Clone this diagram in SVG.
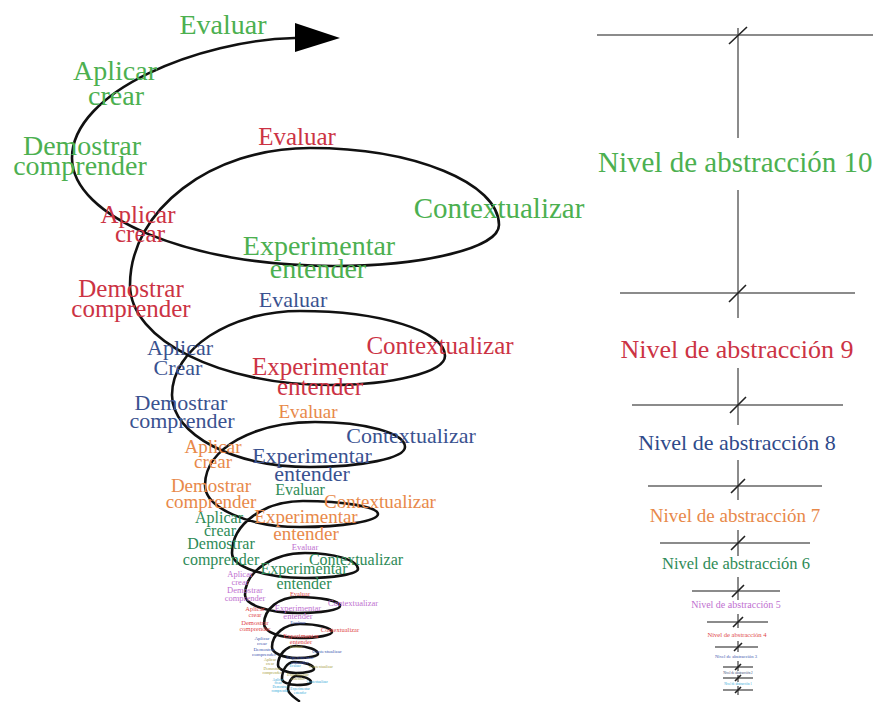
<svg xmlns="http://www.w3.org/2000/svg" width="873" height="702" viewBox="0 0 873 702" font-family="'Liberation Serif','DejaVu Serif',serif">
<style>
text{font-family:"Liberation Serif","DejaVu Serif",serif;text-anchor:middle}
.g10{fill:#4cb050;font-size:28px}
.r9{fill:#cc3344;font-size:25px}
.b8{fill:#3a5290;font-size:22px}
.o7{fill:#e8894a;font-size:19px}
.d6{fill:#2e8b57;font-size:16px}
.p5{fill:#c070d0;font-size:8.5px}
.r4{fill:#e04848;font-size:6.5px}
.b3{fill:#4058b0;font-size:5px}
.y2{fill:#a8a040;font-size:4px}
.c1{fill:#30a8d8;font-size:3.6px}
.spiral{fill:none;stroke:#111;stroke-width:2.6;stroke-linecap:round}
.axis{stroke:#666;stroke-width:1.5;fill:none}
.tick{stroke:#222;stroke-width:1.6;fill:none}
</style>
<rect width="873" height="702" fill="#fff"/>

<g id="connectors">
<path class="spiral" d="M295,38 C200,40 72,91 72,158 C72,217 189,266 333,266 C424,266 499,248 499,225 C499,183 414,148 310,148 C211,148 130,210 130,285 C130,340 220,385 330,385 C393,385 445,372 445,356 C445,331 380,311 300,311 C230,311 172,349 172,395 C172,435 234,467 310,467 C362,467 405,458 405,447 C405,433 365,422 315,422 C255,422 205,448 205,485 C205,508 248,527 300,527 C343,527 378,521 378,514 C378,507 344,501 303,501 C264,501 232,524 232,553 C232,567 265,578 305,578 C334,578 358,574 358,569 C358,560 334,553 305,553 C272,553 245,572 245,595 C245,605 269,613 298,613 C321,613 340,610 340,606 C340,601 321,597 298,597 C279,597 264,609 264,624 C264,632 280,638 300,638 C318,638 332,635 332,632 C332,628 318,624 300,624 C285,624 272,634 272,647 C272,653 283,658 297,658 C309,658 318,656 318,654 C318,650 308,646 296,646 C286,646 278,655 278,665 C278,669 286,673 296,673 C306,673 314,671 314,669 C314,665 305,662 294,662 C287,662 282,670 282,679 C282,682 289,685 297,685 C305,685 311,684 311,682 C311,679 304,676 296,676 C292,676 288,683 288,689 C288,694 295,698 299,701"/>
<polygon points="295,23 340,38 295,52" fill="#000"/>
</g>

<g id="spiral-level10">
<text class="g10" x="223" y="34">Evaluar</text>
<text class="g10" x="115" y="80">Aplicar</text>
<text class="g10" x="116" y="105">crear</text>
<text class="g10" x="82" y="155">Demostrar</text>
<text class="g10" x="80" y="175">comprender</text>
<text class="g10" x="499" y="218" style="font-size:29px">Contextualizar</text>
<text class="g10" x="319" y="255">Experimentar</text>
<text class="g10" x="318" y="278">entender</text>
</g>

<g id="spiral-level9">
<text class="r9" x="297" y="145">Evaluar</text>
<text class="r9" x="138" y="223">Aplicar</text>
<text class="r9" x="140" y="242">crear</text>
<text class="r9" x="131" y="297">Demostrar</text>
<text class="r9" x="131" y="317">comprender</text>
<text class="r9" x="440" y="354">Contextualizar</text>
<text class="r9" x="320" y="375">Experimentar</text>
<text class="r9" x="320" y="395">entender</text>
</g>

<g id="spiral-level8">
<text class="b8" x="293" y="307">Evaluar</text>
<text class="b8" x="180" y="355">Aplicar</text>
<text class="b8" x="178" y="375">Crear</text>
<text class="b8" x="181" y="410">Demostrar</text>
<text class="b8" x="182" y="428">comprender</text>
<text class="b8" x="411" y="443">Contextualizar</text>
<text class="b8" x="312" y="463">Experimentar</text>
<text class="b8" x="312" y="481">entender</text>
</g>

<g id="spiral-level7">
<text class="o7" x="308" y="418">Evaluar</text>
<text class="o7" x="213" y="453">Aplicar</text>
<text class="o7" x="213" y="468">crear</text>
<text class="o7" x="211" y="492">Demostrar</text>
<text class="o7" x="211" y="508">comprender</text>
<text class="o7" x="380" y="508">Contextualizar</text>
<text class="o7" x="306" y="523">Experimentar</text>
<text class="o7" x="306" y="540">entender</text>
</g>

<g id="spiral-level6">
<text class="d6" x="300" y="495">Evaluar</text>
<text class="d6" x="219" y="523">Aplicar</text>
<text class="d6" x="220" y="536">crear</text>
<text class="d6" x="221" y="549">Demostrar</text>
<text class="d6" x="221" y="565">comprender</text>
<text class="d6" x="356" y="565">Contextualizar</text>
<text class="d6" x="304" y="574">Experimentar</text>
<text class="d6" x="304" y="589">entender</text>
</g>

<g id="spiral-level5">
<text class="p5" x="305" y="550">Evaluar</text>
<text class="p5" x="240" y="577">Aplicar</text>
<text class="p5" x="240" y="585">crear</text>
<text class="p5" x="245" y="593">Demostrar</text>
<text class="p5" x="245" y="601">comprender</text>
<text class="p5" x="353" y="606">Contextualizar</text>
<text class="p5" x="298" y="611">Experimentar</text>
<text class="p5" x="298" y="619">entender</text>
</g>

<g id="spiral-level4">
<text class="r4" x="300" y="596">Evaluar</text>
<text class="r4" x="255" y="611">Aplicar</text>
<text class="r4" x="255" y="617">crear</text>
<text class="r4" x="255" y="625">Demostrar</text>
<text class="r4" x="255" y="631">comprender</text>
<text class="r4" x="340" y="632">Contextualizar</text>
<text class="r4" x="301" y="638">Experimentar</text>
<text class="r4" x="301" y="644">entender</text>
</g>

<g id="spiral-level3">
<text class="b3" x="298" y="624">Evaluar</text>
<text class="b3" x="262" y="640">Aplicar</text>
<text class="b3" x="262" y="645">crear</text>
<text class="b3" x="264" y="651">Demostrar</text>
<text class="b3" x="264" y="656">comprender</text>
<text class="b3" x="327" y="653">Contextualizar</text>
<text class="b3" x="300" y="659">Experimentar</text>
<text class="b3" x="300" y="664">entender</text>
</g>

<g id="spiral-level2">
<text class="y2" x="296" y="648">Evaluar</text>
<text class="y2" x="270" y="661">Aplicar</text>
<text class="y2" x="270" y="665">crear</text>
<text class="y2" x="272" y="670">Demostrar</text>
<text class="y2" x="272" y="674">comprender</text>
<text class="y2" x="321" y="668">Contextualizar</text>
<text class="y2" x="298" y="676">Experimentar</text>
<text class="y2" x="298" y="680">entender</text>
</g>

<g id="spiral-level1">
<text class="c1" x="295" y="667">Evaluar</text>
<text class="c1" x="278" y="681">Aplicar</text>
<text class="c1" x="278" y="684">crear</text>
<text class="c1" x="280" y="688">Demostrar</text>
<text class="c1" x="280" y="692">comprender</text>
<text class="c1" x="317" y="683">Contextualizar</text>
<text class="c1" x="300" y="690">Experimentar</text>
<text class="c1" x="300" y="694">entender</text>
</g>

<g id="scale-axis">
<path class="axis" d="M597,35H873 M738,28V138 M738,190V318 M620,293H855 M738,368V425 M632,405H843 M738,460V500 M648,486H822 M738,530V556 M660,543H810 M738,577V600 M692,591H780 M738,614V628 M707,622H768 M738,641V652 M715,647H758 M738,661V671 M723,667H753 M738,675V682 M723,678H753 M738,686V695 M723,690H753"/>
<path class="tick" d="M729,44L747,27 M729,302L746,285 M730,413L746,397 M731,493L745,479 M731,550L745,536 M732,597L744,585 M733,627L743,617 M734,651L742,643 M735,670L741,664 M735,681L741,675 M735,693L741,687"/>
</g>

<g id="scale-level10"><text x="598" y="172" style="text-anchor:start;font-size:29px;fill:#4cb050">Nivel de abstracción 10</text></g>
<g id="scale-level9"><text x="737" y="358" style="font-size:26px;fill:#cc3344">Nivel de abstracción 9</text></g>
<g id="scale-level8"><text x="737" y="450" style="font-size:22px;fill:#2f4a8a">Nivel de abstracción 8</text></g>
<g id="scale-level7"><text x="735" y="522" style="font-size:19px;fill:#e8894a">Nivel de abstracción 7</text></g>
<g id="scale-level6"><text x="736" y="569" style="font-size:16.5px;fill:#2e8b57">Nivel de abstracción 6</text></g>
<g id="scale-level5"><text x="736" y="608" style="font-size:10px;fill:#c070d0">Nivel de abstracción 5</text></g>
<g id="scale-level4"><text x="737" y="637" style="font-size:6.6px;fill:#e04848">Nivel de abstracción 4</text></g>
<g id="scale-level3"><text x="736" y="658" style="font-size:4.7px;fill:#4058b0">Nivel de abstracción 3</text></g>
<g id="scale-level2"><text x="738" y="674" style="font-size:3.3px;fill:#304070">Nivel de abstracción 2</text></g>
<g id="scale-level1"><text x="738" y="685" style="font-size:3.1px;fill:#30a8d8">Nivel de abstracción 1</text></g>
</svg>
